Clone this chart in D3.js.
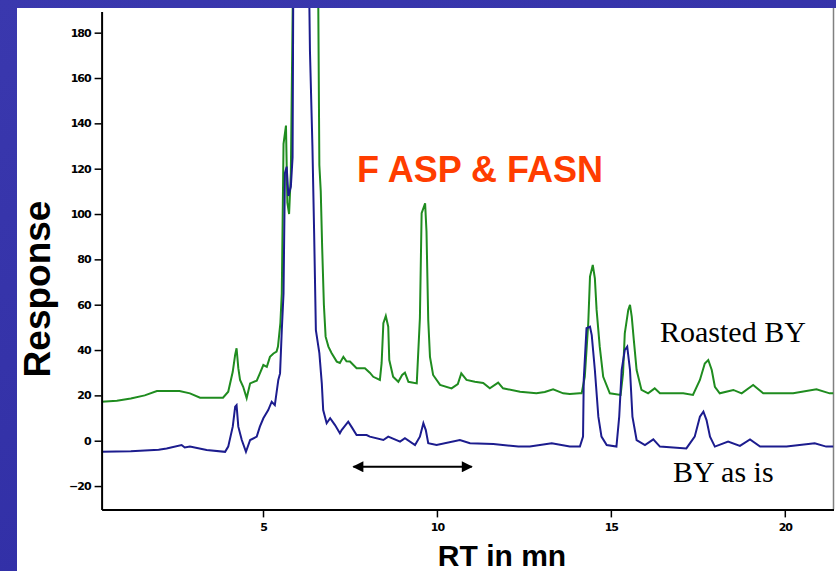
<!DOCTYPE html>
<html>
<head>
<meta charset="utf-8">
<script src="https://cdn.jsdelivr.net/npm/d3@7"></script>
<style>
  html, body { margin: 0; padding: 0; }
  body { width: 836px; height: 571px; overflow: hidden;
         background: linear-gradient(160deg, #3a38ae 0%, #3432a8 50%, #2e2ca6 100%); }
  svg { display: block; }
</style>
</head>
<body>
<div id="vis"></div>
<script>
// chromatogram: retention time (min) and response
var roastedRT = [0.36, 0.8, 1.2, 1.6, 1.95, 2.6, 2.9, 3.19, 3.85, 4.0, 4.13, 4.2, 4.24, 4.29, 4.34, 4.43, 4.53,
  4.63, 4.82, 4.91, 5.01, 5.11, 5.2, 5.3, 5.39, 5.43, 5.5, 5.54, 5.59, 5.66, 5.7, 5.75, 5.8, 5.86, 6.2,
  6.55, 6.59, 6.62, 6.66, 6.7, 6.75, 6.8, 6.88, 6.97, 7.12, 7.21, 7.31, 7.4, 7.5, 7.69, 7.93, 8.07, 8.17,
  8.36, 8.41, 8.46, 8.53, 8.6, 8.63, 8.74, 8.89, 9.0, 9.08, 9.18, 9.42, 9.51, 9.56, 9.66, 9.7, 9.75, 9.8,
  9.89, 10.09, 10.42, 10.6, 10.7, 10.85, 11.09, 11.33, 11.52, 11.76, 11.9, 12.39, 12.86, 13.1, 13.34,
  13.63, 13.82, 14.1, 14.16, 14.25, 14.35, 14.4, 14.48, 14.54, 14.59, 14.68, 14.78, 14.97, 15.28, 15.35,
  15.4, 15.5, 15.55, 15.6, 15.66, 15.74, 15.88, 16.07, 16.26, 16.41, 17.08, 17.36, 17.56, 17.7, 17.8,
  17.9, 17.99, 18.13, 18.52, 18.76, 19.09, 19.38, 20.24, 20.91, 21.29, 21.4];
var roastedResp = [17.2, 17.6, 18.6, 20.0, 21.9, 21.9, 20.9, 19.0, 19.0, 21.6, 30.4, 38, 40.8, 32, 26.8, 23.8, 18.8,
  25.3, 26.5, 29.7, 33.4, 32.6, 37, 38.5, 39.3, 41.5, 52, 65, 131, 139, 105, 100, 118, 200, 400,
  260, 190, 121.5, 110, 85.6, 60, 45.9, 41.5, 38.7, 34.9, 34.3, 37, 35, 34.9, 32, 32, 30, 28.2,
  26.8, 34.3, 51.8, 55, 50.3, 35.6, 28.2, 26, 29, 30, 26, 25.3, 54, 100.4, 104.7, 92.2, 53.2, 37,
  29, 24.6, 23.1, 25, 29.7, 26.8, 26, 25.5, 23.1, 25.6, 23.1, 21.6, 20.9, 21.5, 22.7,
  20.9, 20.6, 20.9, 20.9, 28.2, 51.8, 72.4, 77.5, 71.6, 57.7, 41.5, 28.2, 20.9, 20.2, 29.7,
  47.4, 57.7, 59.9, 54.7, 44.4, 31.2, 22.4, 20.9, 23.1, 20.9, 20.9, 20.2, 26.8, 34.1, 35.6,
  31.2, 23.8, 20.9, 22.4, 20.9, 24.6, 20.9, 20.9, 22.7, 20.9, 20.9];

var asIsRT = [0.36, 1.2, 2.0, 2.23, 2.66, 2.75, 2.9, 3.38, 3.91, 4.0, 4.13, 4.2, 4.24, 4.29, 4.39, 4.51, 4.63,
  4.82, 4.91, 5.01, 5.15, 5.25, 5.34, 5.44, 5.49, 5.54, 5.59, 5.63, 5.68, 5.73, 5.8, 5.85, 5.87, 6.1,
  6.33, 6.35, 6.42, 6.47, 6.52, 6.62, 6.69, 6.73, 6.83, 6.93, 7.07, 7.21, 7.26, 7.45, 7.55, 7.69, 7.98,
  8.07, 8.46, 8.6, 8.94, 9.08, 9.37, 9.51, 9.61, 9.68, 9.75, 9.99, 10.66, 10.95, 11.62, 12.34, 12.67,
  13.3, 13.82, 14.11, 14.2, 14.22, 14.3, 14.4, 14.45, 14.54, 14.64, 14.73, 14.88, 15.16, 15.24, 15.31,
  15.4, 15.47, 15.55, 15.62, 15.74, 15.98, 16.22, 16.41, 17.17, 17.41, 17.56, 17.66, 17.75, 17.85,
  17.99, 18.37, 18.71, 19.0, 19.29, 20.05, 20.86, 21.19, 21.4];
var asIsResp = [-4.9, -4.6, -4.0, -3.4, -1.9, -3.0, -2.6, -4.1, -4.9, -2.6, 6.2, 15, 15.7, 6.2, 0.3, -4.9, 0.3,
  1.8, 6.2, 9.9, 13.5, 17.2, 15.7, 26.8, 29.7, 48.8, 65, 118, 120.9, 108, 112, 125, 200, 400,
  195, 171.6, 130.4, 91.5, 48.8, 38.6, 25.3, 13.5, 7.7, 9.9, 6.9, 3.3, 4.7, 8.4, 6, 2.5, 2.5,
  1.8, 0.3, 1.8, -0.4, 1.1, -1.9, 1.8, 7.7, 4.7, -1.1, -1.9, 0.3, -1.1, -1.5, -2.6, -2.6,
  -1.1, -2.6, -2.6, 1.8, 26.8, 49.6, 50.3, 46.6, 31.2, 10.6, 1.8, -1.9, -2.6, 10.6, 31.2,
  40, 41.5, 31.2, 10.6, 0.3, -1.9, 0.6, -2.6, -3.4, 1.8, 10.6, 12.8, 9.1, 1.8,
  -2.6, -0.4, -2.3, 0.6, -2.6, -2.6, -1.1, -2.6, -2.6];

var yTicks = [-20, 0, 20, 40, 60, 80, 100, 120, 140, 160, 180];
var xTicks = [5, 10, 15, 20];
var seriesNames = ["Roasted BY", "BY as is"];
var chartTitle = "F ASP & FASN";

var W = 836, H = 571;
var svg = d3.select("#vis").append("svg").attr("width", W).attr("height", H);

// white slide panel
svg.append("rect").attr("x", 17).attr("y", 8).attr("width", W - 17).attr("height", H - 8).attr("fill", "#fff");

var x = d3.scaleLinear().domain([0.36, 21.4]).range([101.6, 833.5]);
var y = d3.scaleLinear().domain([-30.3, 190]).range([509.4, 10]);

svg.append("clipPath").attr("id", "plotclip")
  .append("rect").attr("x", x.range()[0]).attr("y", 8)
  .attr("width", x.range()[1] - x.range()[0]).attr("height", y.range()[0] - 8);

// right frame line
svg.append("line").attr("x1", 833.5).attr("x2", 833.5).attr("y1", 8).attr("y2", y.range()[0])
  .attr("stroke", "#808080").attr("stroke-width", 1.5);

function toPoints(ts, vs) { return ts.map(function(t, i) { return [t, vs[i]]; }); }

var line = d3.line().x(function(d) { return x(d[0]); }).y(function(d) { return y(d[1]); });

var traces = svg.append("g").attr("clip-path", "url(#plotclip)");
traces.append("path").datum(toPoints(roastedRT, roastedResp))
  .attr("d", line).attr("fill", "none").attr("stroke", "#1f8c1f").attr("stroke-width", 2)
  .attr("stroke-linejoin", "miter");
traces.append("path").datum(toPoints(asIsRT, asIsResp))
  .attr("d", line).attr("fill", "none").attr("stroke", "#1c1c8e").attr("stroke-width", 2)
  .attr("stroke-linejoin", "miter");

// axes
var tickFont = "DejaVu Sans, sans-serif";
var yMinor = d3.range(-30, 191, 5);
var xMinor = d3.range(1, 22, 1);

var yAxisG = svg.append("g").attr("transform", "translate(" + x.range()[0] + ",0)");
yAxisG.call(d3.axisLeft(y).tickValues(yMinor).tickSize(4).tickSizeOuter(0).tickFormat(""));
yAxisG.call(d3.axisLeft(y).tickValues(yTicks).tickSize(7).tickSizeOuter(0).tickPadding(4));
yAxisG.select(".domain").attr("d", "M0.5,12V" + (y.range()[0] + 0.5));

var xAxisG = svg.append("g").attr("transform", "translate(0," + y.range()[0] + ")");
xAxisG.call(d3.axisBottom(x).tickValues(xMinor).tickSize(3).tickSizeOuter(0).tickFormat(""));
xAxisG.call(d3.axisBottom(x).tickValues(xTicks).tickSize(8).tickSizeOuter(0).tickPadding(6));

svg.selectAll(".domain").attr("stroke", "#000").attr("stroke-width", 2);
svg.selectAll(".tick line").attr("stroke", "#000").attr("stroke-width", 1.5);
svg.selectAll(".tick text").attr("font-family", tickFont).attr("font-size", 11).attr("font-weight", "bold")
  .attr("fill", "#000").attr("letter-spacing", -1);

// axis titles
svg.append("text").attr("x", 502).attr("y", 566).attr("text-anchor", "middle")
  .attr("font-family", "Liberation Sans, Arial, sans-serif").attr("font-weight", "bold")
  .attr("font-size", 30).text("RT in mn");
svg.append("text").attr("transform", "translate(50,289) rotate(-90)").attr("text-anchor", "middle")
  .attr("font-family", "Liberation Sans, Arial, sans-serif").attr("font-weight", "bold")
  .attr("font-size", 37).text("Response");

// chart title
svg.append("text").attr("x", 357).attr("y", 182).attr("font-family", "Liberation Sans, Arial, sans-serif")
  .attr("font-weight", "bold").attr("font-size", 36).attr("fill", "#ff3d00").text(chartTitle);

// series labels
svg.append("text").attr("x", 660).attr("y", 342).attr("font-family", "Liberation Serif, Times New Roman, serif")
  .attr("font-size", 30).attr("fill", "#000").text(seriesNames[0]);
svg.append("text").attr("x", 673).attr("y", 482).attr("font-family", "Liberation Serif, Times New Roman, serif")
  .attr("font-size", 30).attr("fill", "#000").text(seriesNames[1]);

// double-headed arrow marking the region of interest
var arrowFrom = 7.6, arrowTo = 11.0, arrowAt = -11.5;
var defs = svg.append("defs");
defs.append("marker").attr("id", "ah").attr("viewBox", "0 0 10 10").attr("refX", 9).attr("refY", 5)
  .attr("markerWidth", 7).attr("markerHeight", 5.5).attr("markerUnits", "strokeWidth").attr("orient", "auto-start-reverse")
  .append("path").attr("d", "M0,0L10,5L0,10z").attr("fill", "#000");
svg.append("line").attr("x1", x(arrowFrom)).attr("x2", x(arrowTo)).attr("y1", y(arrowAt)).attr("y2", y(arrowAt))
  .attr("stroke", "#000").attr("stroke-width", 2)
  .attr("marker-start", "url(#ah)").attr("marker-end", "url(#ah)");
</script>
</body>
</html>
